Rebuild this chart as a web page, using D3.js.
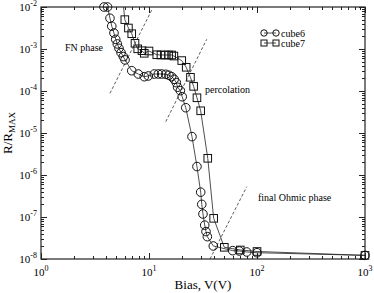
<!DOCTYPE html>
<html lang="en">
<head>
  <meta charset="UTF-8" />
  <title>R/RMAX vs Bias</title>
  <style>
    body { margin: 0; background: #fff; }
    svg { display: block; font-family: "Liberation Serif", "Times New Roman", serif; }
  </style>
</head>
<body>
  <svg id="chart" width="374" height="293"></svg>

  <script src="https://d3js.org/d3.v7.min.js"></script>
  <script>
    // cube6 (circles)
    const cube6Bias = [3.83, 4.13, 4.35, 4.52, 4.74, 4.92, 5.09, 5.27, 5.51, 5.78, 6.0, 6.92, 7.96, 9.04, 9.86,
      11.2, 12.2, 13.1, 14.3, 15.3, 16.2, 17.1, 17.9, 18.4, 19.5, 20.3, 21.9, 25.0, 27.8, 30.1, 30.8, 31.6,
      32.8, 33.7, 34.7, 39.4, 59.6, 68.6, 80.3, 100, 1000];
    const cube6R = [1e-2, 1e-2, 5.4e-3, 3.5e-3, 2.4e-3, 1.7e-3, 1.32e-3, 1.04e-3, 8.2e-4, 6.6e-4, 5.5e-4, 3.04e-4,
      2.54e-4, 2.19e-4, 2.28e-4, 2.54e-4, 2.54e-4, 2.54e-4, 2.5e-4, 2.37e-4, 2.19e-4, 1.9e-4, 1.58e-4, 1.23e-4,
      1.02e-4, 7.3e-5, 4.0e-5, 8.2e-6, 1.59e-6, 3.9e-7, 2.0e-7, 1.18e-7, 6.4e-8, 4.5e-8, 3.4e-8, 2.04e-8,
      1.58e-8, 1.55e-8, 1.47e-8, 1.41e-8, 1.22e-8];

    // cube7 (squares)
    const cube7Bias = [5.68, 5.97, 6.45, 6.92, 7.42, 7.86, 8.61, 9.04, 10.0, 11.8, 12.9, 14.1, 15.2, 16.2, 17.0,
      20.1, 22.1, 24.2, 25.9, 27.8, 30.1, 35.0, 39.7, 49.8, 70.0, 100, 1000];
    const cube7R = [1.83e-2, 5.0e-3, 3.16e-3, 2.31e-3, 1.37e-3, 1.01e-3, 9.1e-4, 7.9e-4, 8.96e-4, 7.3e-4, 7.2e-4,
      7.2e-4, 7.2e-4, 7.2e-4, 6.8e-4, 5.3e-4, 3.67e-4, 2.12e-4, 1.29e-4, 6.9e-5, 3.38e-5, 2.5e-6, 9.3e-8, 1.9e-8,
      1.64e-8, 1.51e-8, 1.22e-8];

    // dashed guide lines: [bias0, r0, bias1, r1]
    const guideLines = [
      [4.35, 8.8e-5, 10.6, 8.5e-3],
      [14.3, 1.86e-5, 34.2, 1.7e-3],
      [36.7, 1e-8, 80.3, 5.26e-7]
    ];
    const guideLabels = ["FN phase", "percolation", "final Ohmic phase"];
    const guideLabelAt = [[65, 9.2e-4], [205, 8.9e-5], [258, 2.45e-7]];

    const xDecades = [0, 1, 2, 3];
    const yDecades = [-8, -7, -6, -5, -4, -3, -2];
    const seriesNames = ["cube6", "cube7"];

    const svg = d3.select("#chart");
    const m = { left: 41, right: 365, top: 7, bottom: 259 };

    const x = d3.scaleLog().domain([1, 1000]).range([m.left, m.right]);
    const y = d3.scaleLog().domain([1e-8, 1e-2]).range([m.bottom, m.top]);

    svg.append("defs").append("clipPath").attr("id", "plot")
      .append("rect").attr("x", m.left).attr("y", m.top)
      .attr("width", m.right - m.left).attr("height", m.bottom - m.top);

    // minor/major ticks, mirrored on all four sides
    const minorX = [], minorY = [];
    xDecades.slice(0, -1).forEach(d => { for (let k = 2; k < 10; k++) minorX.push(k * Math.pow(10, d)); });
    yDecades.slice(0, -1).forEach(d => { for (let k = 2; k < 10; k++) minorY.push(k * Math.pow(10, d)); });

    const ticks = svg.append("g").attr("stroke", "#222").attr("stroke-width", 1);
    const addX = (v, len) => {
      const px = Math.round(x(v)) + 0.5;
      ticks.append("line").attr("x1", px).attr("x2", px).attr("y1", m.bottom).attr("y2", m.bottom - len);
      ticks.append("line").attr("x1", px).attr("x2", px).attr("y1", m.top).attr("y2", m.top + len);
    };
    const addY = (v, len) => {
      const py = Math.round(y(v)) + 0.5;
      ticks.append("line").attr("x1", m.left).attr("x2", m.left + len).attr("y1", py).attr("y2", py);
      ticks.append("line").attr("x1", m.right).attr("x2", m.right - len).attr("y1", py).attr("y2", py);
    };
    minorX.forEach(v => addX(v, 3));
    xDecades.forEach(d => addX(Math.pow(10, d), 6));
    minorY.forEach(v => addY(v, 3));
    yDecades.forEach(d => addY(Math.pow(10, d), 6));

    svg.append("rect")
      .attr("x", m.left).attr("y", m.top)
      .attr("width", m.right - m.left).attr("height", m.bottom - m.top)
      .attr("fill", "none").attr("stroke", "#222").attr("stroke-width", 1.2);

    // tick labels
    xDecades.forEach(d => {
      const t = svg.append("text")
        .attr("x", x(Math.pow(10, d)))
        .attr("y", 276)
        .attr("text-anchor", "middle")
        .attr("font-size", 11);
      t.append("tspan").text("10");
      t.append("tspan").attr("dy", -5).attr("font-size", 8).text(d);
    });
    yDecades.forEach(d => {
      const t = svg.append("text")
        .attr("x", 37)
        .attr("y", y(Math.pow(10, d)) + 4)
        .attr("text-anchor", "end")
        .attr("font-size", 11);
      t.append("tspan").text("10");
      t.append("tspan").attr("dy", -5).attr("font-size", 8).text(d);
    });

    // axis titles
    svg.append("text")
      .attr("x", (m.left + m.right) / 2)
      .attr("y", 289)
      .attr("text-anchor", "middle")
      .attr("font-size", 13)
      .text("Bias, V(V)");

    const yt = svg.append("text")
      .attr("transform", `translate(12, ${(m.top + m.bottom) / 2}) rotate(-90)`)
      .attr("text-anchor", "middle")
      .attr("font-size", 13);
    yt.append("tspan").text("R/R");
    yt.append("tspan").attr("dy", 3).attr("font-size", 9).text("MAX");

    // dashed guides
    const plot = svg.append("g").attr("clip-path", "url(#plot)");
    guideLines.forEach(g => {
      plot.append("line")
        .attr("x1", x(g[0])).attr("y1", y(g[1]))
        .attr("x2", x(g[2])).attr("y2", y(g[3]))
        .attr("stroke", "#333")
        .attr("stroke-width", 0.8)
        .attr("stroke-dasharray", "3,2");
    });
    guideLabels.forEach((s, i) => {
      svg.append("text")
        .attr("x", guideLabelAt[i][0])
        .attr("y", y(guideLabelAt[i][1]))
        .attr("font-size", 10)
        .text(s);
    });

    // series: lines clipped to the frame, markers only for in-range points
    const line = d3.line().x(d => x(d[0])).y(d => y(d[1]));
    const cube6 = cube6Bias.map((b, i) => [b, cube6R[i]]);
    const cube7 = cube7Bias.map((b, i) => [b, cube7R[i]]);
    const inRange = d => d[1] <= 1e-2;

    [cube6, cube7].forEach(data => {
      plot.append("path")
        .attr("d", line(data))
        .attr("fill", "none")
        .attr("stroke", "#222")
        .attr("stroke-width", 0.8);
    });

    svg.append("g").selectAll("circle").data(cube6.filter(inRange)).join("circle")
      .attr("cx", d => x(d[0])).attr("cy", d => y(d[1]))
      .attr("r", 4.3)
      .attr("fill", "none").attr("stroke", "#111").attr("stroke-width", 1);

    svg.append("g").selectAll("rect").data(cube7.filter(inRange)).join("rect")
      .attr("x", d => x(d[0]) - 3.8).attr("y", d => y(d[1]) - 3.8)
      .attr("width", 7.6).attr("height", 7.6)
      .attr("fill", "none").attr("stroke", "#111").attr("stroke-width", 1);

    // legend
    const legend = svg.append("g");
    seriesNames.forEach((name, i) => {
      const ly = 33 + i * 10;
      legend.append("line").attr("x1", 264).attr("x2", 276).attr("y1", ly).attr("y2", ly)
        .attr("stroke", "#222").attr("stroke-width", 0.8);
      [264, 276].forEach(lx => {
        if (i === 0) {
          legend.append("circle").attr("cx", lx).attr("cy", ly).attr("r", 3.2)
            .attr("fill", "none").attr("stroke", "#111");
        } else {
          legend.append("rect").attr("x", lx - 3).attr("y", ly - 3).attr("width", 6).attr("height", 6)
            .attr("fill", "none").attr("stroke", "#111");
        }
      });
      legend.append("text").attr("x", 281).attr("y", ly + 3.5).attr("font-size", 10).text(name);
    });
  </script>
</body>
</html>
